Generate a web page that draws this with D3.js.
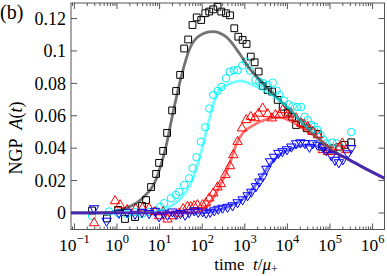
<!DOCTYPE html>
<meta charset="utf-8">
<style>
body { margin: 0; background: #fff; }
text { font-family: "Liberation Serif", serif; fill: #000; }
.frame { fill: none; stroke: #555; stroke-width: 1; }
.tk { stroke: #555; stroke-width: 1; }
.fit { fill: none; stroke-width: 2.8; stroke-opacity: 0.55; }
.mk { fill: none; stroke-width: 1; }
</style>
<svg width="387" height="276"></svg>
<script src="https://d3js.org/d3.v7.min.js"></script>
<script>

// measured points (time t/mu+, NGP A(t))
var sqT = [0.26,0.58,1.06,1.54,2.65,3.87,4.81,6.31,8.27,9.73,12.1,15.0,19.7,24.4,30.3,37.7,46.9,59.2,74.3,94.7,
  118,146,182,229,280,361,449,566,703,888,1100,1380,1700,2110,2630,3440,4360,5910,7750,10200,
  12900,16000,21000,28400,36700,51700,65500,88700,116000,161000,219000,315000];
var sqA = [0.0015,-0.0034,0.0019,-0.0037,-0.0025,0.0043,0.0080,0.0160,0.0241,0.0309,0.0383,0.0494,0.0633,0.0753,0.0852,
  0.1015,0.1071,0.1160,0.1207,0.1191,0.1233,0.1243,0.1257,0.1273,0.1243,0.1233,0.1220,0.1140,0.1088,0.1068,
  0.1043,0.0965,0.0930,0.0873,0.0784,0.0759,0.0749,0.0698,0.0656,0.0619,0.0594,0.0543,0.0554,0.0523,0.0506,
  0.0488,0.0409,0.0393,0.0399,0.0406,0.0420,0.0436];

var ciT = [0.26,0.65,1.06,1.72,2.65,3.87,5.66,7.83,10.3,12.8,18.4,24.1,28.8,37.7,49.4,59.2,73.5,93.2,118,146,
  182,229,284,361,444,551,677,873,1070,1320,1770,2190,2720,3440,4510,5600,6480,8280,10600,13300,
  16900,21000,25100,30000,36100,43200,50800,59800,70300,82800,113000,145000,174000,315000];
var ciA = [-0.0019,0.0009,0,-0.0006,0.0006,-0.0006,0.0006,0.0012,0.0037,0.0060,0.0091,0.0111,0.0131,0.0173,0.0214,
  0.0276,0.0344,0.0440,0.0529,0.0645,0.0728,0.0753,0.0778,0.0831,0.0872,0.0881,0.0881,0.0910,0.0934,0.0878,
  0.0821,0.0810,0.0801,0.0790,0.0804,0.0755,0.0728,0.0694,0.0670,0.0659,0.0654,0.0654,0.0594,0.0574,0.0543,
  0.0533,0.0512,0.0481,0.0451,0.0430,0.0434,0.0430,0.0406,0.0500];

var upT = [0.29,0.90,1.18,1.72,2.75,3.94,5.66,7.83,9.73,12.1,15.3,20.8,28.8,35.7,45.1,53.6,64.8,77.5,102,122,
  146,182,229,275,347,449,536,677,859,1080,1380,1720,2110,2630,3440,4310,5220,6480,7750,10200,
  12200,16000,21000,25100,30000,39300,51700,67700,88700,116000,167000,194000,240000];
var upA = [-0.0062,0.0074,0.0049,0.0019,0.0025,0.0029,0.0029,0.0006,-0.0019,0.0006,-0.0039,-0.0019,-0.0002,0.0025,0.0039,
  0.0037,0.0043,0.0049,0.0049,0.0060,0.0091,0.0122,0.0159,0.0179,0.0235,0.0290,0.0358,0.0440,0.0523,0.0574,
  0.0593,0.0586,0.0614,0.0646,0.0611,0.0585,0.0605,0.0605,0.0636,0.0605,0.0615,0.0585,0.0554,0.0543,0.0533,
  0.0502,0.0481,0.0389,0.0378,0.0378,0.0406,0.0430,0.0389];

var dnT = [0.29,0.57,1.11,1.72,2.65,3.87,5.66,7.83,9.73,12.1,15.3,20.0,24.4,30.7,39.8,49.4,64.8,80.5,102,124,
  154,192,238,300,394,516,677,888,1160,1420,1820,2190,2630,3200,3920,4810,6130,7620,9730,12400,
  16000,20200,25800,32900,39300,50800,67700,81400,107000,131000,161000,200000,262000,315000];
var dnA = [0.0028,-0.0049,0,0.0006,-0.0006,0.0006,-0.0002,0.0012,-0.0022,0,-0.0012,0.0008,-0.0006,-0.0002,-0.0012,
  0.0003,0.0015,0.0006,0.0009,0,0.0006,0.0015,0.0025,0.0031,0.0037,0.0046,0.0065,0.0083,0.0108,0.0130,
  0.0164,0.0193,0.0224,0.0272,0.0318,0.0346,0.0370,0.0380,0.0392,0.0409,0.0429,0.0435,0.0430,0.0407,0.0429,
  0.0420,0.0407,0.0386,0.0355,0.0327,0.0312,0.0330,0.0367,0.0400];

// model curves
var grayT = [0.083,0.65,1.60,3.94,8.14,14.0,20.8,32.1,49.4,85.0,175,361,742,1280,2630,7750,19100,47300,140000,288000,494000,1.9e6];
var grayA = [0,0.0003,0.0029,0.0091,0.0204,0.0407,0.0623,0.0840,0.1006,0.1093,0.1119,0.1088,0.0986,0.0893,0.0801,0.0677,0.0574,0.0471,0.0370,0.0327,0.0293,0.0214];
var cyanT = [0.083,1.9,5.66,14.0,28.8,49.4,71.0,102,133,175,251,432,815,1530,3150,6480,11100,19100,47300,140000,288000,494000,1.9e6];
var cyanA = [0,0,0.0001,0.0029,0.0080,0.0162,0.0265,0.0409,0.0533,0.0656,0.0759,0.0796,0.0815,0.0790,0.0749,0.0694,0.0645,0.0574,0.0471,0.0370,0.0327,0.0293,0.0214];
var redT = [0.083,49.4,85,146,210,330,473,621,888,1400,2190,3770,6480,11100,22900,47300,140000,288000,494000,1.9e6];
var redA = [0,0,0.0009,0.0059,0.0122,0.0224,0.0327,0.0420,0.0492,0.0533,0.0562,0.0583,0.0590,0.0571,0.0523,0.0471,0.0370,0.0327,0.0293,0.0214];
var blueT = [0.083,85,175,432,1070,2190,3770,6480,13300,22900,39300,67700,140000,288000,494000,1.9e6];
var blueA = [0,0,0.0009,0.0040,0.0102,0.0204,0.0296,0.0358,0.0399,0.0418,0.0417,0.0398,0.0370,0.0327,0.0293,0.0214];

var xMajor = [0.1,1,10,100,1000,10000,100000,1000000];
var xExp = ["\u22121","0","1","2","3","4","5","6"];
var yTicks = [0,0.02,0.04,0.06,0.08,0.1,0.12];
var yLabels = ["0","0.02","0.04","0.06","0.08","0.1","0.12"];

var svg = d3.select("svg"),
    L = 71, R = 384.5, T = 3, B = 229.5;

var x = d3.scaleLog().domain([0.0832, 1.90e6]).range([L, R]);
var y = d3.scaleLinear().domain([-0.0102, 0.1296]).range([B, T]);

function zip(ts, as) { return ts.map(function(t, i) { return [t, as[i]]; }); }

// ticks
var minors = [];
for (var k = -2; k <= 6; k++) for (var m = 2; m <= 9; m++) {
  var v = m * Math.pow(10, k);
  if (v > x.domain()[0] && v < x.domain()[1]) minors.push(v);
}
var tg = svg.append("g");
minors.forEach(function(v) {
  tg.append("line").attr("class", "tk").attr("x1", x(v)).attr("x2", x(v)).attr("y1", B).attr("y2", B - 3);
  tg.append("line").attr("class", "tk").attr("x1", x(v)).attr("x2", x(v)).attr("y1", T).attr("y2", T + 3);
});
xMajor.forEach(function(v, i) {
  tg.append("line").attr("class", "tk").attr("x1", x(v)).attr("x2", x(v)).attr("y1", B).attr("y2", B - 6);
  tg.append("line").attr("class", "tk").attr("x1", x(v)).attr("x2", x(v)).attr("y1", T).attr("y2", T + 6);
  var t = svg.append("text").attr("x", x(v)).attr("y", 250.5)
    .attr("text-anchor", "middle").style("font-size", "17.5px");
  t.append("tspan").text("10");
  t.append("tspan").attr("dy", -8).style("font-size", "12.5px").text(xExp[i]);
});
yTicks.forEach(function(v, i) {
  tg.append("line").attr("class", "tk").attr("x1", L).attr("x2", L + 6).attr("y1", y(v)).attr("y2", y(v));
  tg.append("line").attr("class", "tk").attr("x1", R).attr("x2", R - 6).attr("y1", y(v)).attr("y2", y(v));
  svg.append("text").attr("x", 66).attr("y", y(v)).attr("dy", "0.35em")
    .attr("text-anchor", "end").style("font-size", "18px").text(yLabels[i]);
});

svg.append("rect").attr("class", "frame")
  .attr("x", L).attr("y", T).attr("width", R - L).attr("height", B - T);

// markers
var plot = svg.append("g");
function markers(ts, as, type, size, color, rot) {
  var sym = d3.symbol().type(type).size(size);
  plot.selectAll(null).data(zip(ts, as)).enter().append("path")
    .attr("class", "mk")
    .attr("d", sym)
    .attr("stroke", color)
    .attr("transform", function(d) {
      return "translate(" + x(d[0]) + "," + y(d[1]) + ")" + (rot ? " rotate(180)" : "");
    });
}
markers(sqT, sqA, d3.symbolSquare, 46, "#000", false);
markers(ciT, ciA, d3.symbolCircle, 44, "#00f0f8", false);
markers(upT, upA, d3.symbolTriangle, 38, "#ff0000", false);
markers(dnT, dnA, d3.symbolTriangle, 38, "#0000ff", true);

// fit lines
var line = d3.line().curve(d3.curveMonotoneX)
  .x(function(d) { return x(d[0]); })
  .y(function(d) { return y(d[1]); });
[[grayT, grayA, "#000"], [cyanT, cyanA, "#00ffff"], [redT, redA, "#ff0000"], [blueT, blueA, "#0000ff"]]
  .forEach(function(s) {
    plot.append("path").attr("class", "fit").attr("stroke", s[2]).attr("d", line(zip(s[0], s[1])));
  });

// labels
svg.append("text").attr("x", 0).attr("y", 19).style("font-size", "20px").text("(b)");

var yl = svg.append("text").attr("transform", "translate(22,138) rotate(-90)")
  .attr("text-anchor", "middle").style("font-size", "18px");
yl.append("tspan").text("NGP\u2002");
yl.append("tspan").style("font-style", "italic").text("A");
yl.append("tspan").text("(");
yl.append("tspan").style("font-style", "italic").text("t");
yl.append("tspan").text(")");

var xl = svg.append("text").attr("x", 246).attr("y", 270)
  .attr("text-anchor", "middle").style("font-size", "17px");
xl.append("tspan").text("time\u2002");
xl.append("tspan").style("font-style", "italic").text("t");
xl.append("tspan").text("/");
xl.append("tspan").style("font-style", "italic").text("\u03bc");
xl.append("tspan").attr("dy", 3).style("font-size", "12px").text("+");

</script>
